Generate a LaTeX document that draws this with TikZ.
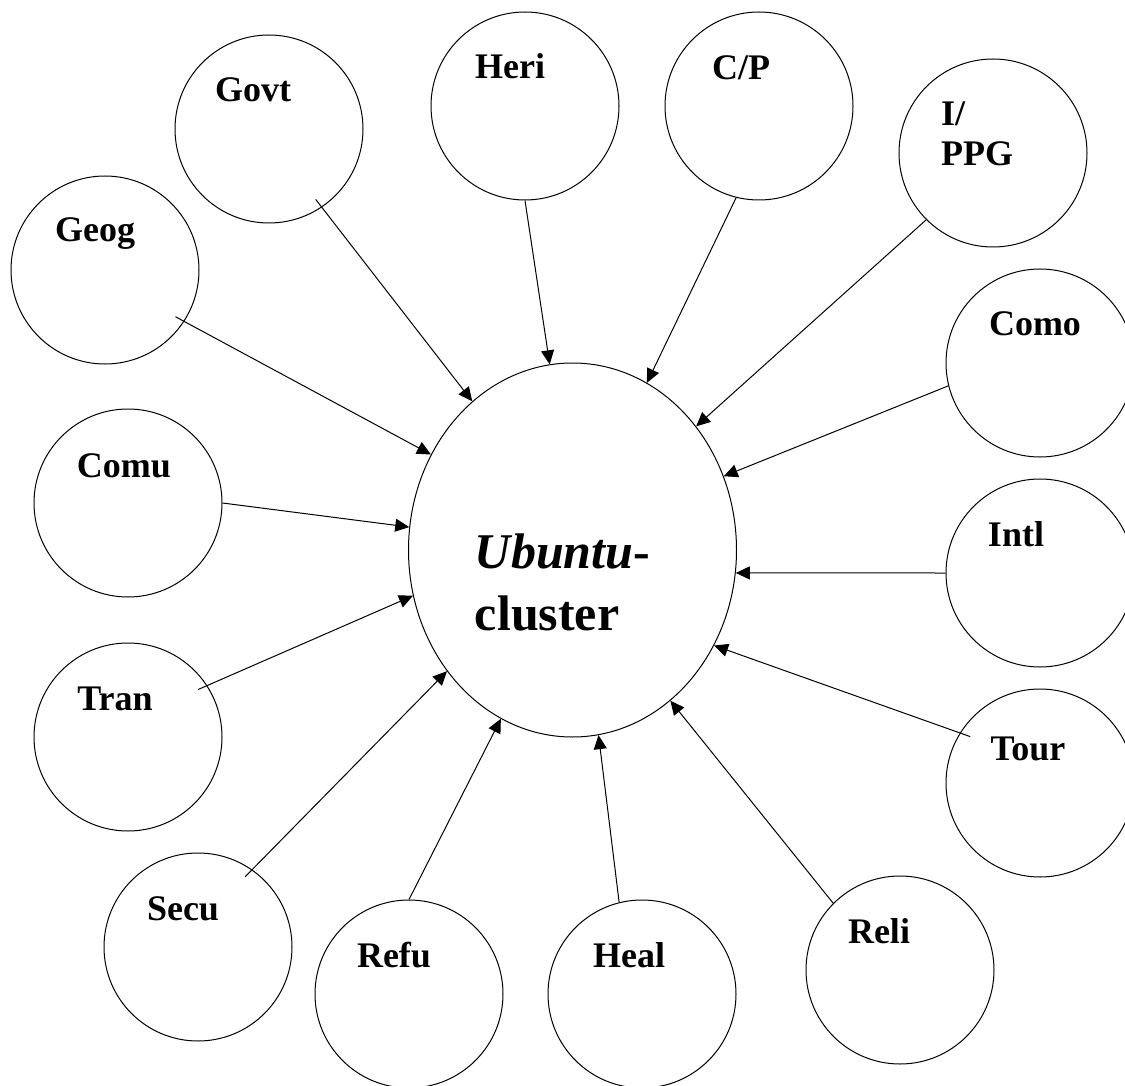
\documentclass[tikz,border=0pt]{standalone}
\usepackage{fontspec}
\setmainfont{Liberation Serif}
\usetikzlibrary{arrows.meta,shapes.geometric}
\tikzset{cl/.style={draw,circle,minimum size=188pt,inner sep=0pt,line width=1pt},
 ub/.style={draw,ellipse,minimum width=328pt,minimum height=374pt,inner sep=0pt,line width=1pt},
 lbl/.style={font=\bfseries\fontsize{36}{40}\selectfont,inner sep=0pt,anchor=base},
 arr/.style={-{Triangle[length=14pt,width=13pt]},line width=1pt}}
\begin{document}
\begin{tikzpicture}[x=1pt,y=-1pt]
\useasboundingbox (0,0) rectangle (1125,1086);
\node[ub] (ubu) at (572.5,550) {};
\node[align=left,inner sep=0pt,font=\bfseries\fontsize{50}{62}\selectfont] (ubut) at (562.5,582) {\textit{Ubuntu}-\\cluster};
\node[cl] (geog) at (105,270) {};\node[lbl] (geogt) at (95,242) {Geog};
\node[cl] (govt) at (269,129) {};\node[lbl] (govtt) at (253,102) {Govt};
\node[cl] (heri) at (525,106) {};\node[lbl] (herit) at (510,79) {Heri};
\node[cl] (cp) at (759,106) {};\node[lbl] (cpt) at (741,80) {C/P};
\node[cl] (ippg) at (993,153) {};
\node[lbl,anchor=center,align=left] (ippgt) at (977,134) {I/\\PPG};
\node[cl] (como) at (1040,363) {};\node[lbl] (comot) at (1035,335) {Como};
\node[cl] (comu) at (128,503) {};\node[lbl] (comut) at (124,477) {Comu};
\node[cl] (intl) at (1040,573) {};\node[lbl] (intlt) at (1016,546) {Intl};
\node[cl] (tran) at (128,737) {};\node[lbl] (trant) at (115,710) {Tran};
\node[cl] (tour) at (1040,783) {};\node[lbl] (tourt) at (1028,760) {Tour};
\node[cl] (secu) at (198,947) {};\node[lbl] (secut) at (183,920) {Secu};
\node[cl] (refu) at (409,994) {};\node[lbl] (refut) at (394,967) {Refu};
\node[cl] (heal) at (642,994) {};\node[lbl] (healt) at (629,967) {Heal};
\node[cl] (reli) at (900,970) {};\node[lbl] (relit) at (879,943) {Reli};
\draw[arr,shorten <=-10pt] (geog.-33) -- (ubu.146);
\draw[arr,shorten <=-10pt] (govt.-56) -- (ubu.124);
\draw[arr] (heri.270) -- (ubu.97);
\draw[arr] (cp.256) -- (ubu.66);
\draw[arr] (ippg.225) -- (ubu.45);
\draw[arr] (como.194) -- (ubu.26);
\draw[arr] (intl.180) -- (ubu.-8);
\draw[arr,shorten <=-11pt] (tour.148) -- (ubu.-34);
\draw[arr] (reli.135) -- (ubu.-57);
\draw[arr] (heal.104) -- (ubu.-82);
\draw[arr] (refu.90) -- (ubu.247);
\draw[arr,shorten <=-10pt] (secu.55) -- (ubu.224);
\draw[arr,shorten <=-10pt] (tran.33) -- (ubu.196);
\draw[arr] (comu.0) -- (ubu.172);
\end{tikzpicture}
\end{document}
